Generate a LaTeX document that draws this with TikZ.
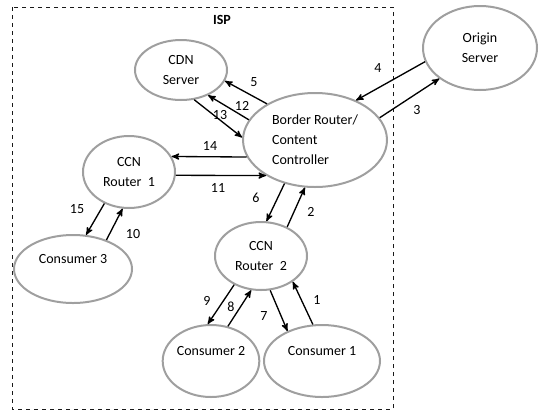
\documentclass[tikz,border=0pt]{standalone}
\usepackage{fontspec}
\setmainfont{Carlito}
\usetikzlibrary{arrows, shapes.geometric}
\tikzset{>=stealth',
    x=0.75pt, y=-0.75pt,
    every node/.style={font=\fontsize{10.5}{15}\selectfont},
    unit/.style={ellipse,draw=gray!75,line width=1.5pt,inner sep=0pt,align=center},
    msg/.style={->,line width=1pt,black},
    num/.style={inner sep=0pt},
    isp/.style={dashed,line width=0.6pt,gray!20!black}}

\begin{document}
\begin{tikzpicture}
\useasboundingbox (0,0) rectangle (539,412);
\draw[isp] (12,7) rectangle (393,409);
\node[num,font=\fontsize{10.5}{15}\selectfont\bfseries] (isplabel) at (222,20) {ISP};

\node[unit,minimum width=69pt,minimum height=45pt]   (cdn)  at (181,70)  {CDN\\Server};
\node[unit,minimum width=108pt,minimum height=70.5pt,align=left] (brc) at (315,140) {Border Router/\\Content\\Controller};
\node[unit,minimum width=85.5pt,minimum height=63pt] (orig) at (480,48)  {Origin\\Server};
\node[unit,minimum width=69pt,minimum height=54pt]   (ccna) at (129,172) {CCN\\Router\ \ 1};
\node[unit,minimum width=88.5pt,minimum height=51pt] (consc) at (73,269) {Consumer 3\\\phantom{C}};
\node[unit,minimum width=69pt,minimum height=51pt]   (ccnb) at (261,256) {CCN\\Router\ \ 2};
\node[unit,minimum width=69pt,minimum height=54pt]   (consb) at (211,361) {Consumer 2\\\phantom{C}};
\node[unit,minimum width=87pt,minimum height=54pt]   (consa) at (322,361) {Consumer 1\\\phantom{C}};

% border router <-> cdn / origin
\draw[msg] (brc.143) -- (cdn.-14);
\draw[msg] (brc.163) -- (cdn.-43);
\draw[msg] (cdn.-66) -- (brc.178);
\draw[msg] (orig.194) -- (brc.44);
\draw[msg] (brc.19) -- (orig.217);
% routers
\draw[msg] (brc.194) -- (ccna.20);
\draw[msg] (ccna.-4) -- (brc.216);
\draw[msg] (brc.235) -- (ccnb.81);
\draw[msg] (ccnb.48) -- (brc.258);
% consumers
\draw[msg] (ccna.232) -- (consc.69);
\draw[msg] (consc.41) -- (ccna.260);
\draw[msg] (ccnb.227) -- (consb.95);
\draw[msg] (consb.64) -- (ccnb.254);
\draw[msg] (ccnb.285) -- (consa.139);
\draw[msg] (consa.104) -- (ccnb.321);

\node[num] (l1)  at (317,300) {1};
\node[num] (l2)  at (311,212) {2};
\node[num] (l3)  at (417,110) {3};
\node[num] (l4)  at (378,68)  {4};
\node[num] (l5)  at (254,82)  {5};
\node[num] (l6)  at (256,198) {6};
\node[num] (l7)  at (264,316) {7};
\node[num] (l8)  at (231,307) {8};
\node[num] (l9)  at (207,301) {9};
\node[num] (l10) at (133,234) {10};
\node[num] (l11) at (218,188) {11};
\node[num] (l12) at (242,106) {12};
\node[num] (l13) at (220,115) {13};
\node[num] (l14) at (210,146) {14};
\node[num] (l15) at (77,209)  {15};
\end{tikzpicture}
\end{document}
